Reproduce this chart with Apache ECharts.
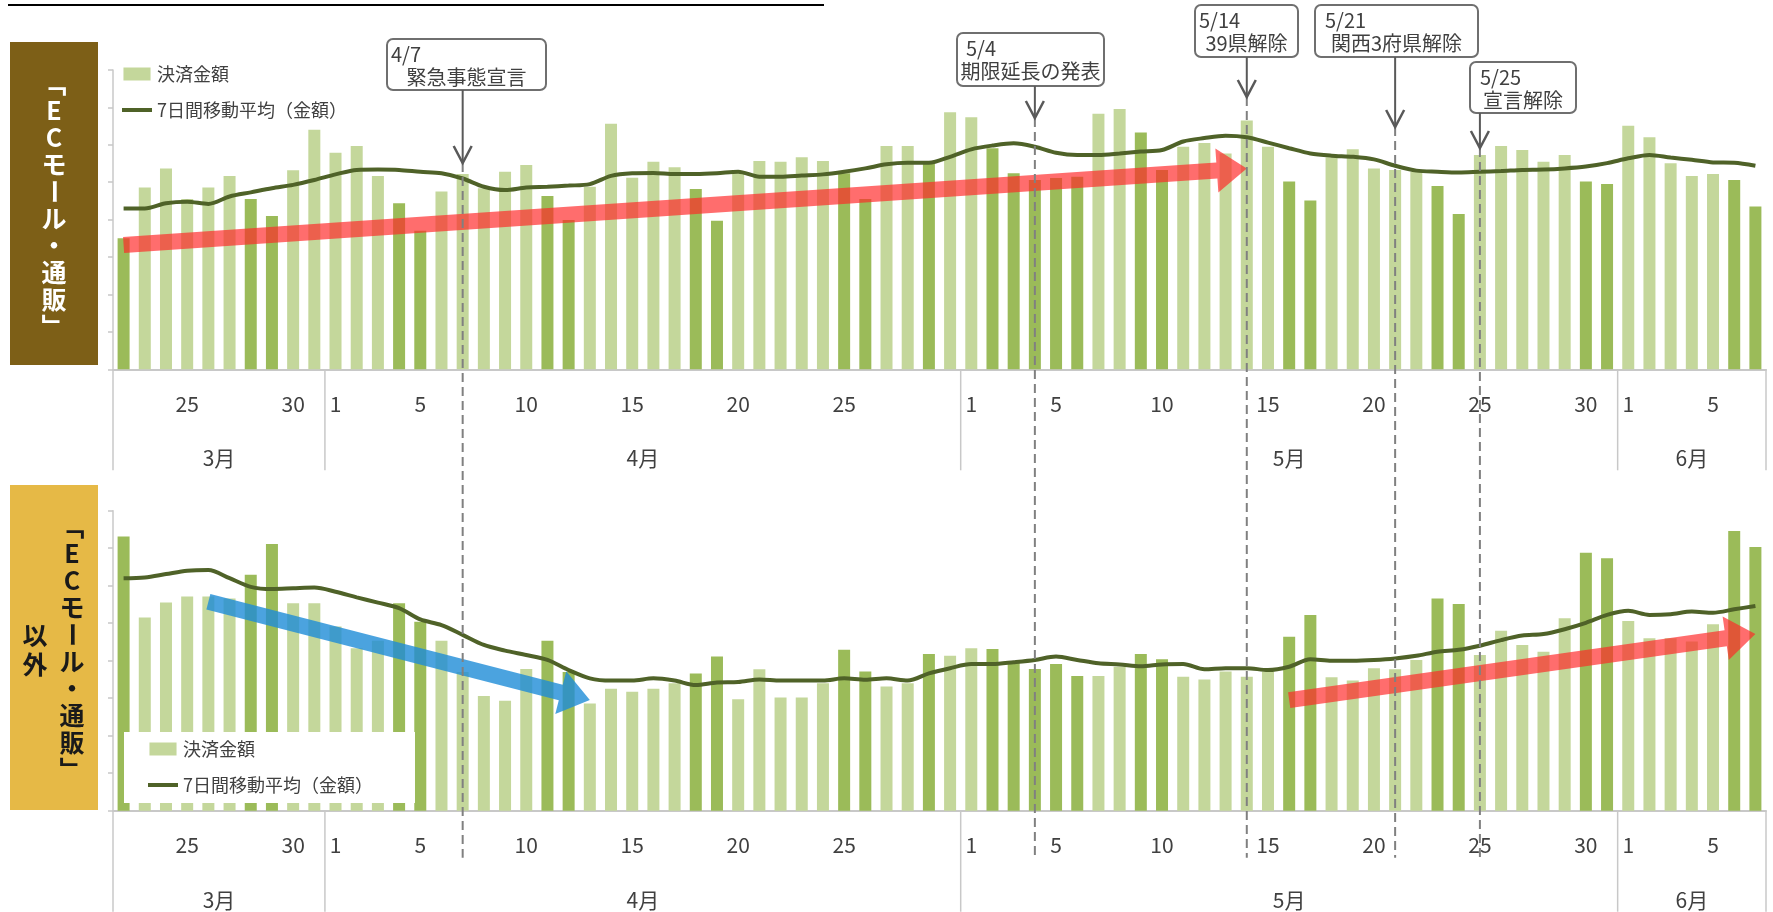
<!DOCTYPE html>
<html>
<head>
<meta charset="utf-8">
<script src="https://cdn.jsdelivr.net/npm/echarts/dist/echarts.min.js"></script>
<style>
html,body{margin:0;padding:0;background:#ffffff;}
#chart{width:1773px;height:912px;}
</style>
</head>
<body>
<div id="chart"></div>
<script>
// ---------------- DATA ----------------
const dates = [
  '3/22','3/23','3/24','3/25','3/26','3/27','3/28','3/29','3/30','3/31',
  '4/1','4/2','4/3','4/4','4/5','4/6','4/7','4/8','4/9','4/10',
  '4/11','4/12','4/13','4/14','4/15','4/16','4/17','4/18','4/19','4/20',
  '4/21','4/22','4/23','4/24','4/25','4/26','4/27','4/28','4/29','4/30',
  '5/1','5/2','5/3','5/4','5/5','5/6','5/7','5/8','5/9','5/10',
  '5/11','5/12','5/13','5/14','5/15','5/16','5/17','5/18','5/19','5/20',
  '5/21','5/22','5/23','5/24','5/25','5/26','5/27','5/28','5/29','5/30',
  '5/31','6/1','6/2','6/3','6/4','6/5','6/6','6/7'
];
// weekends and holidays (darker bars)
const holidays = ['3/22','3/28','3/29','4/4','4/5','4/11','4/12','4/18','4/19','4/25','4/26','4/29',
  '5/2','5/3','5/4','5/5','5/6','5/9','5/10','5/16','5/17','5/23','5/24','5/30','5/31','6/6','6/7'];
const labeledDays = ['3/25','3/30','4/1','4/5','4/10','4/15','4/20','4/25',
  '5/1','5/5','5/10','5/15','5/20','5/25','5/30','6/1','6/5'];
const months = [
  {label:'3月', first:'3/22', last:'3/31'},
  {label:'4月', first:'4/1', last:'4/30'},
  {label:'5月', first:'5/1', last:'5/31'},
  {label:'6月', first:'6/1', last:'6/7'}
];
const seriesNames = ['決済金額', '7日間移動平均（金額）'];
// 「ECモール・通販」 written vertically (vertical bracket forms)
const panelTitleChars = ['﹁','E','C','モ','ー','ル','・','通','販','﹂'];
const otherSuffix = '以外';

// ECモール・通販 (index units, axis 0-8)
const ecValues = [
  3.50, 4.86, 5.37, 4.55, 4.86, 5.17, 4.55, 4.10, 5.32, 6.40,
  5.79, 5.97, 5.17, 4.44, 3.70, 4.75, 5.22, 4.84, 5.28, 5.46,
  4.63, 3.99, 4.88, 6.56, 5.12, 5.55, 5.40, 4.82, 3.97, 5.24,
  5.57, 5.55, 5.67, 5.57, 5.24, 4.55, 5.97, 5.97, 5.51, 6.87,
  6.74, 5.91, 5.24, 5.06, 5.11, 5.15, 6.83, 6.96, 6.33, 5.33,
  5.95, 6.05, 5.77, 6.65, 5.95, 5.02, 4.51, 5.67, 5.88, 5.37,
  5.33, 5.28, 4.90, 4.15, 5.73, 5.97, 5.86, 5.55, 5.73, 5.02,
  4.95, 6.51, 6.20, 5.51, 5.17, 5.22, 5.06, 4.35
];
const ecAvg = [
  4.30, 4.30, 4.44, 4.48, 4.42, 4.62, 4.73, 4.84, 4.93, 5.06,
  5.21, 5.33, 5.34, 5.33, 5.28, 5.24, 5.10, 4.88, 4.79, 4.86,
  4.88, 4.91, 4.95, 5.17, 5.24, 5.25, 5.22, 5.22, 5.24, 5.28,
  5.15, 5.15, 5.18, 5.21, 5.28, 5.37, 5.48, 5.52, 5.52, 5.68,
  5.88, 5.98, 6.04, 5.95, 5.79, 5.73, 5.73, 5.77, 5.82, 5.86,
  6.09, 6.18, 6.24, 6.20, 6.06, 5.91, 5.77, 5.71, 5.68, 5.61,
  5.44, 5.31, 5.28, 5.26, 5.28, 5.30, 5.33, 5.34, 5.37, 5.42,
  5.51, 5.64, 5.73, 5.66, 5.60, 5.53, 5.52, 5.44
];
// ECモール・通販以外
const otherValues = [
  7.31, 5.15, 5.55, 5.71, 5.71, 5.66, 6.29, 7.11, 5.53, 5.53,
  4.91, 4.33, 4.53, 5.53, 5.04, 4.53, 3.70, 3.06, 2.93, 3.78,
  4.53, 3.70, 2.86, 3.25, 3.17, 3.25, 3.40, 3.66, 4.11, 2.97,
  3.77, 3.02, 3.02, 3.40, 4.29, 3.71, 3.31, 3.40, 4.18, 4.13,
  4.33, 4.31, 3.97, 3.78, 3.91, 3.59, 3.59, 3.84, 4.18, 4.04,
  3.57, 3.50, 3.71, 3.57, 3.71, 4.64, 5.22, 3.56, 3.47, 3.80,
  3.77, 4.02, 5.66, 5.51, 4.15, 4.80, 4.42, 4.24, 5.13, 6.88,
  6.73, 5.06, 4.60, 4.60, 4.51, 4.97, 7.46, 7.03
];
const otherAvg = [
  6.20, 6.22, 6.31, 6.40, 6.42, 6.20, 5.97, 5.91, 5.93, 5.95,
  5.84, 5.69, 5.55, 5.40, 5.10, 4.95, 4.69, 4.42, 4.27, 4.15,
  4.02, 3.75, 3.53, 3.47, 3.47, 3.53, 3.47, 3.35, 3.42, 3.43,
  3.50, 3.47, 3.47, 3.47, 3.53, 3.49, 3.53, 3.47, 3.66, 3.80,
  3.91, 3.91, 3.96, 4.02, 4.11, 4.02, 3.93, 3.90, 3.85, 3.90,
  3.91, 3.77, 3.80, 3.80, 3.75, 3.84, 4.04, 4.00, 4.00, 4.02,
  4.06, 4.13, 4.24, 4.29, 4.40, 4.55, 4.67, 4.71, 4.84, 5.01,
  5.22, 5.33, 5.22, 5.24, 5.31, 5.28, 5.37, 5.46
];
const yTicks = {min: 0, max: 8, interval: 1};

// events (annotations)
const events = [
  {date:'4/7',  line1:'4/7',  line2:'緊急事態宣言'},
  {date:'5/4',  line1:'5/4',  line2:'期限延長の発表'},
  {date:'5/14', line1:'5/14', line2:'39県解除'},
  {date:'5/21', line1:'5/21', line2:'関西3府県解除'},
  {date:'5/25', line1:'5/25', line2:'宣言解除'}
];
// trend arrows
const trendArrows = [
  {panel:0, from:['3/22', 3.32], to:['5/14', 5.37], kind:'up'},
  {panel:1, from:['3/26', 5.57], to:['4/13', 2.95], kind:'down'},
  {panel:1, from:['5/16', 2.95], to:['6/7', 4.71], kind:'up'}
];

// ---------------- STYLE / LAYOUT ----------------
const FONT = '"Noto Sans CJK JP", "Noto Sans", sans-serif';
const LIGHT = '#c4d79b';
const DARK = '#9bbb59';
const LINE = '#4f6228';
const TXT = '#404040';
const AXIS_GRAY = '#c8c8c8';
const calloutLayout = {
  '4/7':  {x:387,  y:39, w:159, h:51, tip:163, dx:4},
  '5/4':  {x:957,  y:33, w:147, h:53, tip:118, dx:9},
  '5/14': {x:1195, y:5,  w:103, h:52, tip:97,  dx:4},
  '5/21': {x:1315, y:5,  w:163, h:52, tip:127, dx:10},
  '5/25': {x:1470, y:62, w:106, h:51, tip:148, dx:10}
};
const arrowColors = {up:'rgba(255,40,40,0.68)', down:'rgba(30,140,215,0.80)'};
const grids = [
  {left:113, right:7, top:70, height:299.3},
  {left:113, right:7, top:510.7, height:300}
];

function barData(vals) {
  return vals.map((v, i) => holidays.includes(dates[i])
    ? {value: v, itemStyle: {color: DARK}} : v);
}

function xAxisCfg(gi) {
  return {
    type: 'category', gridIndex: gi, data: dates, boundaryGap: true,
    axisLine: {show: true, lineStyle: {color: AXIS_GRAY, width: 2}},
    axisTick: {show: false},
    axisLabel: {
      interval: 0, margin: 24, fontSize: 21, color: TXT, fontFamily: FONT,
      formatter: v => labeledDays.includes(v) ? v.split('/')[1] : ''
    },
    splitLine: {show: false}
  };
}
function yAxisCfg(gi) {
  return {
    type: 'value', gridIndex: gi, min: yTicks.min, max: yTicks.max, interval: yTicks.interval,
    axisLine: {show: true, lineStyle: {color: AXIS_GRAY, width: 1.5}},
    axisTick: {show: true, length: 5, lineStyle: {color: AXIS_GRAY, width: 1.5}},
    axisLabel: {show: false},
    splitLine: {show: false}
  };
}
function legendCfg(extra) {
  return Object.assign({
    orient: 'vertical', itemWidth: 30, itemHeight: 13, itemGap: 18,
    selectedMode: false,
    textStyle: {fontSize: 18, color: TXT, fontFamily: FONT},
    itemStyle: {borderWidth: 0},
    data: [
      {name: seriesNames[0], icon: 'path://M0,0H25V12H0Z', itemStyle: {color: LIGHT, borderWidth: 0}},
      {name: seriesNames[1], icon: 'path://M0,0H30V4H0Z', itemStyle: {color: LINE, borderWidth: 0}}
    ]
  }, extra);
}

const option = {
  animation: false,
  backgroundColor: '#ffffff',
  textStyle: {fontFamily: FONT},
  grid: grids.map(g => Object.assign({containLabel: false, outerBoundsMode: 'none'}, g)),
  xAxis: [xAxisCfg(0), xAxisCfg(1)],
  yAxis: [yAxisCfg(0), yAxisCfg(1)],
  legend: [
    legendCfg({left: 122, top: 65, padding: 0}),
    legendCfg({left: 124, top: 732, padding: [8, 42, 9, 24], backgroundColor: '#ffffff'})
  ],
  series: [
    {name: seriesNames[0], type: 'bar', xAxisIndex: 0, yAxisIndex: 0, barWidth: 12,
     itemStyle: {color: LIGHT}, data: barData(ecValues), z: 2},
    {name: seriesNames[1], type: 'line', xAxisIndex: 0, yAxisIndex: 0, data: ecAvg,
     symbol: 'none', smooth: 0.3, lineStyle: {color: LINE, width: 4},
     itemStyle: {color: LINE}, z: 4},
    {name: seriesNames[0], type: 'bar', xAxisIndex: 1, yAxisIndex: 1, barWidth: 12,
     itemStyle: {color: LIGHT}, data: barData(otherValues), z: 2},
    {name: seriesNames[1], type: 'line', xAxisIndex: 1, yAxisIndex: 1, data: otherAvg,
     symbol: 'none', smooth: 0.3, lineStyle: {color: LINE, width: 4},
     itemStyle: {color: LINE}, z: 4}
  ]
};

const chart = echarts.init(document.getElementById('chart'), null, {renderer: 'canvas', width: 1773, height: 912});
chart.setOption(option);

// ---------------- ANNOTATIONS (positions from the chart's own scales) ----------------
const px = (g, d, v) => chart.convertToPixel({gridIndex: g}, [d, v]);
const bw = px(0, dates[1], 0)[0] - px(0, dates[0], 0)[0];
const gfx = [];

// title underline (title text itself is cut off in the reference)
gfx.push({type:'line', shape:{x1:8, y1:5, x2:824, y2:5}, style:{stroke:'#000', lineWidth:2}, silent:true, z:10});

// vertical text helper: one element per character, long-vowel mark rotated
function verticalText(chars, cx, cy, pitch, color) {
  const y0 = cy - (chars.length - 1) * pitch / 2;
  chars.forEach((ch, i) => {
    gfx.push({type:'text', x:cx, y:y0 + i * pitch, rotation: ch === 'ー' ? -Math.PI / 2 : 0,
      silent:true, z:11, style:{text:ch, fontSize:25, fontWeight:'bold', fontFamily:FONT,
        fill:color, align:'center', verticalAlign:'middle'}});
  });
}

// panel label boxes
gfx.push({type:'rect', shape:{x:10, y:42, width:88, height:323}, style:{fill:'#7d5f17'}, silent:true, z:10});
verticalText(panelTitleChars, 54, 205, 27, '#ffffff');
gfx.push({type:'rect', shape:{x:10, y:485, width:88, height:325}, style:{fill:'#e6b946'}, silent:true, z:10});
verticalText(panelTitleChars, 72, 648, 27, '#1a1a1a');
verticalText(otherSuffix.split(''), 35, 650, 29, '#1a1a1a');

// month separators & labels for each panel
[0, 1].forEach(g => {
  const axisY = px(g, dates[0], 0)[1];
  const bottom = axisY + 101;
  const bounds = months.map(m => px(g, m.first, 0)[0] - bw / 2);
  bounds.push(px(g, months[months.length - 1].last, 0)[0] + bw / 2);
  bounds.forEach(x => gfx.push({type:'line', shape:{x1:x, y1:axisY, x2:x, y2:bottom},
    style:{stroke:AXIS_GRAY, lineWidth:1.5}, silent:true, z:6}));
  months.forEach(m => {
    const cx = (px(g, m.first, 0)[0] + px(g, m.last, 0)[0]) / 2;
    gfx.push({type:'text', x:cx, y:axisY + 89, silent:true, z:6, style:{
      text:m.label, fontSize:21, fontFamily:FONT, fill:TXT, align:'center', verticalAlign:'middle'}});
  });
});

// event callouts + dashed lines
const dashEnd = px(1, dates[0], 0)[1] + 47;
events.forEach(ev => {
  const L = calloutLayout[ev.date];
  const x = px(0, ev.date, 0)[0];
  gfx.push({type:'rect', shape:{x:L.x, y:L.y, width:L.w, height:L.h, r:6},
    style:{fill:'#ffffff', stroke:'#6f6f6f', lineWidth:2}, silent:true, z:12});
  gfx.push({type:'text', x:L.x + L.dx, y:L.y + 15, silent:true, z:13, style:{
    text:ev.line1, fontSize:20, fontFamily:FONT, fill:TXT, align:'left', verticalAlign:'middle'}});
  gfx.push({type:'text', x:L.x + L.w / 2, y:L.y + 38, silent:true, z:13, style:{
    text:ev.line2, fontSize:20, fontFamily:FONT, fill:TXT, align:'center', verticalAlign:'middle'}});
  gfx.push({type:'line', shape:{x1:x, y1:L.y + L.h, x2:x, y2:L.tip},
    style:{stroke:'#595959', lineWidth:2}, silent:true, z:12});
  gfx.push({type:'polyline', shape:{points:[[x - 9, L.tip - 17], [x, L.tip], [x + 9, L.tip - 17]]},
    style:{stroke:'#595959', lineWidth:2.5, fill:null}, silent:true, z:12});
  gfx.push({type:'line', shape:{x1:x, y1:L.tip, x2:x, y2:dashEnd},
    style:{stroke:'#808080', lineWidth:2, lineDash:[9, 5]}, silent:true, z:7});
});

// trend arrows
trendArrows.forEach(a => {
  const p0 = px(a.panel, a.from[0], a.from[1]);
  const p1 = px(a.panel, a.to[0], a.to[1]);
  const dx = p1[0] - p0[0], dy = p1[1] - p0[1];
  const len = Math.hypot(dx, dy);
  const ux = dx / len, uy = dy / len, nx = -uy, ny = ux;
  const w = 8, H = 22, HL = 30;
  const bx = p1[0] - ux * HL, by = p1[1] - uy * HL;
  const pts = [
    [p0[0] + nx * w, p0[1] + ny * w], [bx + nx * w, by + ny * w], [bx + nx * H, by + ny * H],
    [p1[0], p1[1]],
    [bx - nx * H, by - ny * H], [bx - nx * w, by - ny * w], [p0[0] - nx * w, p0[1] - ny * w]
  ];
  gfx.push({type:'polygon', shape:{points:pts}, style:{fill:arrowColors[a.kind]}, silent:true, z:3});
});

chart.setOption({graphic: gfx});
</script>
</body>
</html>
